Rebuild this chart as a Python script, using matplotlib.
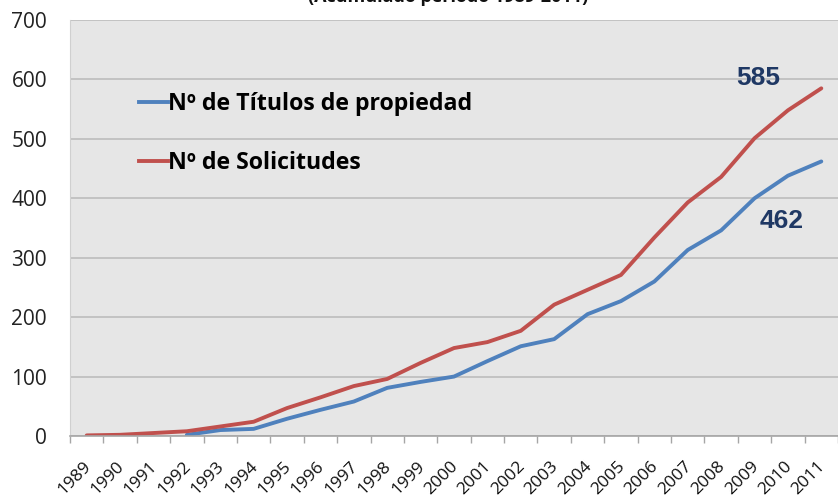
import matplotlib
matplotlib.use("Agg")
import matplotlib.pyplot as plt
import matplotlib.transforms as mtransforms
import numpy as np

years = ["1989", "1990", "1991", "1992", "1993", "1994", "1995", "1996",
         "1997", "1998", "1999", "2000", "2001", "2002", "2003", "2004",
         "2005", "2006", "2007", "2008", "2009", "2010", "2011"]
# titulos start in 1992
titulos = [None, None, None, 2, 10, 12, 29, 44, 58, 81, 91, 100,
           126, 151, 163, 205, 227, 260, 313, 346, 400, 438, 462]
solicitudes = [1, 2, 5, 8, 16, 24, 47, 65, 84, 96, 123, 148,
               158, 177, 221, 246, 271, 334, 393, 436, 501, 548, 585]

label_titulos = "Nº de Títulos de propiedad"
label_solicitudes = "Nº de Solicitudes"
title = "(Acumulado periodo 1989-2011)"

blue = "#4F81BD"
red = "#C0504D"
navy = "#1F3864"

plt.rcParams['font.family'] = ['Open Sans', 'DejaVu Sans']

fig = plt.figure(figsize=(8.38, 4.99), dpi=100)
W, H = 838, 499
ax = fig.add_axes([70 / W, (H - 436) / H, (W - 70) / W, (436 - 20) / H])
ax.set_facecolor("#E6E6E6")

x = np.arange(len(years))
t = np.array([np.nan if v is None else v for v in titulos], dtype=float)
s = np.array(solicitudes, dtype=float)

ax.plot(x, t, color=blue, lw=2.8, solid_capstyle="round", solid_joinstyle="round")
ax.plot(x, s, color=red, lw=2.8, solid_capstyle="round", solid_joinstyle="round")

ax.set_xlim(-0.5, 22.15)
ax.set_ylim(0, 700)
ax.set_yticks(range(0, 701, 100))
ax.yaxis.grid(True, color="#C0C0C0", lw=1.3)
ax.set_axisbelow(True)
ax.tick_params(axis="y", length=0, pad=16.5, labelsize=15, labelcolor="#222222")

ax.set_xticks(x)
ax.set_xticklabels(years, rotation=45, ha="right", va="top",
                   rotation_mode="anchor", fontsize=12.5, color="#111111")
ax.set_xticks(np.arange(-0.5, len(years), 1.0), minor=True)
ax.tick_params(axis="x", which="major", length=0, pad=16)
ax.tick_params(axis="x", which="minor", length=5, color="#A6A6A6", width=1)
offset = mtransforms.ScaledTranslation(-4 / 100, 0, fig.dpi_scale_trans)
for lab in ax.get_xticklabels():
    lab.set_transform(lab.get_transform() + offset)

for side in ["top", "right"]:
    ax.spines[side].set_visible(False)
ax.spines["left"].set_color("#D0D0D0")
ax.spines["bottom"].set_color("#A6A6A6")
ax.spines["bottom"].set_linewidth(1.2)

# legend drawn inside the plot area
leg = ax.legend(
    handles=[plt.Line2D([], [], color=blue, lw=2.8),
             plt.Line2D([], [], color=red, lw=2.8)],
    labels=[label_titulos, label_solicitudes],
    loc="center left", bbox_to_anchor=((139 - 70) / (W - 70), (436 - 133.5) / 416),
    frameon=False, handlelength=1.27, handletextpad=0.0,
    borderpad=0, borderaxespad=0,
    labelspacing=1.5, prop={"weight": "bold", "size": 16.7})

# end values
ax.annotate(str(solicitudes[-1]), xy=(x[-1], solicitudes[-1]), xytext=(-63, 10),
            textcoords="offset pixels", ha="center", va="center",
            fontsize=19, fontweight="bold", color=navy, family="Liberation Sans")
ax.annotate(str(titulos[-1]), xy=(x[-1], titulos[-1]), xytext=(-40, -60),
            textcoords="offset pixels", ha="center", va="center",
            fontsize=19, fontweight="bold", color=navy, family="Liberation Sans")

# title, cut off at the top of the image
fig.text(448 / W, 1 + 3 / H, title, ha="center", va="center",
         fontsize=13, fontweight="bold", color="#111111")

fig.savefig("out.png", dpi=100)
